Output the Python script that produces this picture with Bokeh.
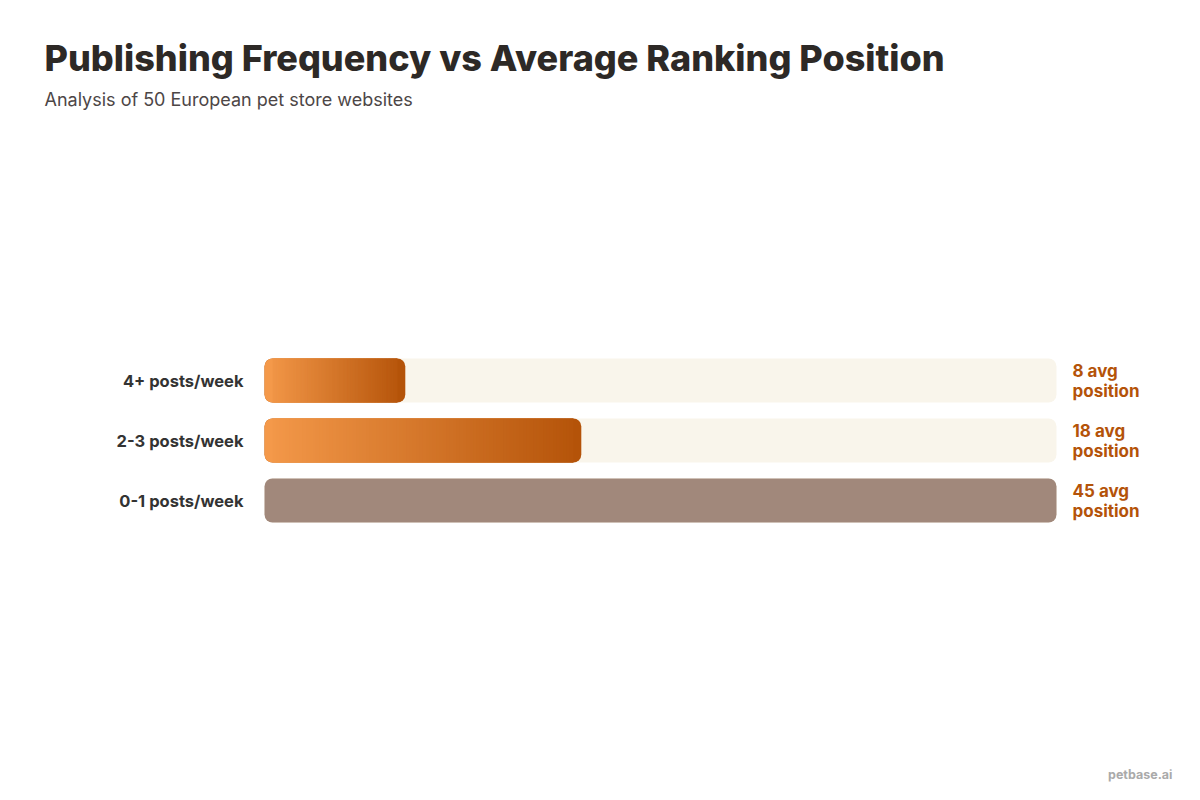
from bokeh.plotting import figure
from bokeh.models import Range1d, Label, ColumnDataSource
from bokeh.core.properties import value
from bokeh.embed import file_html
from bokeh.resources import INLINE

# ---- data ----
categories = ["4+ posts/week", "2-3 posts/week", "0-1 posts/week"]
avg_position = [8, 18, 45]
bar_style = ["gradient", "gradient", "solid"]
scale_max = 45
title_text = "Publishing Frequency vs Average Ranking Position"
subtitle_text = "Analysis of 50 European pet store websites"
brand_text = "petbase.ai"

# ---- layout / style ----
W, H = 1184, 784
TRACK_L, TRACK_W = 264, 792          # px
ROW0_Y, ROW_STEP = 380, 60           # px, centre of first row and spacing
BAR_PX = 44
RADIUS = 8
TRACK = "#f9f5eb"
GRAD_START = (244, 153, 74)
GRAD_END = (180, 83, 9)
SOLID = "#a1887b"
VALUE_COLOR = "#b45309"
LABEL_COLOR = "#333333"
FONT = "Inter"

ux = TRACK_W / scale_max            # px per value unit
x_range = Range1d(-TRACK_L / ux, (W - TRACK_L) / ux)
y_range = Range1d((H - ROW0_Y) / ROW_STEP, -ROW0_Y / ROW_STEP)   # rows downwards

p = figure(width=W, height=H, output_backend="svg", toolbar_location=None,
           x_range=x_range, y_range=y_range, min_border=0)
p.outline_line_color = None
p.background_fill_color = "white"
p.border_fill_color = "white"
p.grid.visible = False
p.axis.visible = False

rows = list(range(len(categories)))
bar_h = BAR_PX / ROW_STEP

# tracks
p.hbar(y=rows, left=0, right=scale_max, height=bar_h, fill_color=TRACK,
       line_color=None, border_radius=RADIUS)

def hexc(c):
    return "#%02x%02x%02x" % tuple(int(round(x)) for x in c)

cap = RADIUS / ux
slices = dict(y=[], left=[], right=[], color=[])
for r, v, st in zip(rows, avg_position, bar_style):
    if st == "solid":
        p.hbar(y=[r], left=0, right=v, height=bar_h, fill_color=SOLID,
               line_color=None, border_radius=RADIUS)
        continue
    p.hbar(y=[r], left=0, right=v, height=bar_h, fill_color=hexc(GRAD_END),
           line_color=None, border_radius=RADIUS)
    p.hbar(y=[r], left=0, right=v - 3 * cap, height=bar_h, fill_color=hexc(GRAD_START),
           line_color=None, border_radius=(RADIUS, 0, 0, RADIUS))
    n = 90
    a, b = cap, v - cap
    step = (b - a) / n
    for i in range(n):
        l = a + i * step
        rr = min(b, l + step * 2.0)
        t = (l + step / 2) / v
        col = [GRAD_START[k] + (GRAD_END[k] - GRAD_START[k]) * t for k in range(3)]
        slices["y"].append(r)
        slices["left"].append(l)
        slices["right"].append(rr)
        slices["color"].append(hexc(col))
p.hbar(y="y", left="left", right="right", height=bar_h, fill_color="color",
       line_color=None, source=ColumnDataSource(slices))

# category and value labels
src = ColumnDataSource(dict(
    y=rows,
    zero=[0] * len(rows),
    full=[scale_max] * len(rows),
    cat=categories,
    l1=[f"{v} avg" for v in avg_position],
    l2=["position"] * len(rows),
))
p.text(x="zero", y="y", text="cat", source=src, x_offset=-21,
       text_font=value(FONT), text_font_style="bold", text_font_size="16.5px",
       text_color=LABEL_COLOR, text_align="right", text_baseline="middle")
for col, off in (("l1", -10), ("l2", 10)):
    p.text(x="full", y="y", text=col, source=src, x_offset=16, y_offset=off,
           text_font=value(FONT), text_font_style="bold", text_font_size="17px",
           text_color=VALUE_COLOR, text_align="left", text_baseline="middle")

# titles (screen units: from left / bottom of the canvas-sized frame)
p.add_layout(Label(x=44, y=H - 57, x_units="screen", y_units="screen",
                   text=title_text, text_font="Inter ExtraBold, Inter", text_font_style="bold",
                   text_font_size="36px", text_color="#2d2926",
                   text_baseline="middle", text_align="left"))
p.add_layout(Label(x=44, y=H - 99, x_units="screen", y_units="screen",
                   text=subtitle_text, text_font=FONT,
                   text_font_size="18px", text_color="#4d4646",
                   text_baseline="middle", text_align="left"))
p.add_layout(Label(x=1172, y=H - 774, x_units="screen", y_units="screen",
                   text=brand_text, text_font=FONT, text_font_style="bold",
                   text_font_size="12.5px", text_color="#aaaaaa",
                   text_baseline="middle", text_align="right"))

open("out.html", "w").write(file_html(p, INLINE))
